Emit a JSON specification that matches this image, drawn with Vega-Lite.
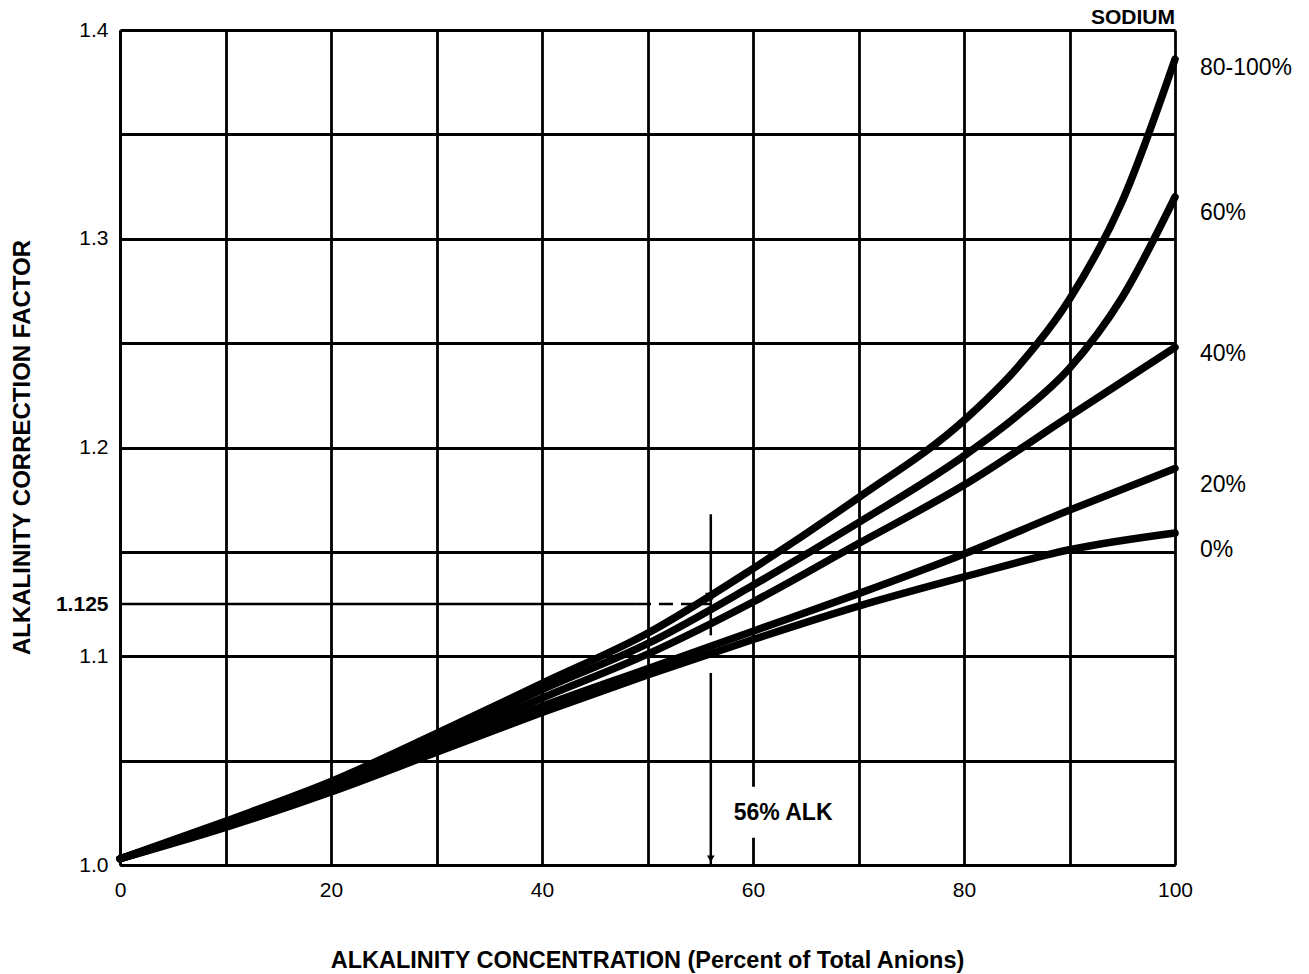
{
  "$schema": "https://vega.github.io/schema/vega-lite/v6.json",
  "width": 1055,
  "height": 835,
  "autosize": {"type": "none"},
  "padding": {"left": 120, "top": 30, "right": 134, "bottom": 109},
  "background": "white",
  "config": {"font": "Liberation Sans", "view": {"stroke": null}},
  "datasets": {
    "curves": [
      {"series": "80-100%", "x": 0, "y": 1.003}, {"series": "80-100%", "x": 10, "y": 1.021}, {"series": "80-100%", "x": 20, "y": 1.04},
      {"series": "80-100%", "x": 30, "y": 1.063}, {"series": "80-100%", "x": 40, "y": 1.087}, {"series": "80-100%", "x": 50, "y": 1.111},
      {"series": "80-100%", "x": 60, "y": 1.142}, {"series": "80-100%", "x": 70, "y": 1.176}, {"series": "80-100%", "x": 80, "y": 1.213},
      {"series": "80-100%", "x": 85, "y": 1.238}, {"series": "80-100%", "x": 90, "y": 1.271}, {"series": "80-100%", "x": 95, "y": 1.318},
      {"series": "80-100%", "x": 100, "y": 1.386},
      {"series": "60%", "x": 0, "y": 1.003}, {"series": "60%", "x": 10, "y": 1.02}, {"series": "60%", "x": 20, "y": 1.038},
      {"series": "60%", "x": 30, "y": 1.06}, {"series": "60%", "x": 40, "y": 1.084}, {"series": "60%", "x": 50, "y": 1.106},
      {"series": "60%", "x": 60, "y": 1.134}, {"series": "60%", "x": 70, "y": 1.164}, {"series": "60%", "x": 80, "y": 1.196},
      {"series": "60%", "x": 85, "y": 1.215}, {"series": "60%", "x": 90, "y": 1.238}, {"series": "60%", "x": 95, "y": 1.272},
      {"series": "60%", "x": 100, "y": 1.32},
      {"series": "40%", "x": 0, "y": 1.003}, {"series": "40%", "x": 10, "y": 1.019}, {"series": "40%", "x": 20, "y": 1.037},
      {"series": "40%", "x": 30, "y": 1.058}, {"series": "40%", "x": 40, "y": 1.08}, {"series": "40%", "x": 50, "y": 1.101},
      {"series": "40%", "x": 60, "y": 1.126}, {"series": "40%", "x": 70, "y": 1.154}, {"series": "40%", "x": 80, "y": 1.182},
      {"series": "40%", "x": 90, "y": 1.215}, {"series": "40%", "x": 100, "y": 1.248},
      {"series": "20%", "x": 0, "y": 1.003}, {"series": "20%", "x": 10, "y": 1.019}, {"series": "20%", "x": 20, "y": 1.036},
      {"series": "20%", "x": 30, "y": 1.056}, {"series": "20%", "x": 40, "y": 1.076}, {"series": "20%", "x": 50, "y": 1.094},
      {"series": "20%", "x": 60, "y": 1.112}, {"series": "20%", "x": 70, "y": 1.13}, {"series": "20%", "x": 80, "y": 1.149},
      {"series": "20%", "x": 90, "y": 1.17}, {"series": "20%", "x": 100, "y": 1.19},
      {"series": "0%", "x": 0, "y": 1.003}, {"series": "0%", "x": 10, "y": 1.018}, {"series": "0%", "x": 20, "y": 1.035},
      {"series": "0%", "x": 30, "y": 1.054}, {"series": "0%", "x": 40, "y": 1.073}, {"series": "0%", "x": 50, "y": 1.091},
      {"series": "0%", "x": 60, "y": 1.108}, {"series": "0%", "x": 70, "y": 1.124}, {"series": "0%", "x": 80, "y": 1.138},
      {"series": "0%", "x": 90, "y": 1.151}, {"series": "0%", "x": 100, "y": 1.159}
    ],
    "seriesLabels": [
      {"label": "80-100%", "x": 100, "y": 1.382},
      {"label": "60%", "x": 100, "y": 1.3125},
      {"label": "40%", "x": 100, "y": 1.245},
      {"label": "20%", "x": 100, "y": 1.182},
      {"label": "0%", "x": 100, "y": 1.151}
    ],
    "alkSegments": [
      {"x": 56, "x2": 56, "y": 1.168, "y2": 1.11},
      {"x": 56, "x2": 56, "y": 1.092, "y2": 1.0}
    ],
    "readSolid": [{"x": 0, "x2": 49, "y": 1.125, "y2": 1.125}],
    "readDashed": [{"x": 49, "x2": 56, "y": 1.125, "y2": 1.125}],
    "labelBox": [{"x": 58.3, "x2": 67.6, "y": 1.013, "y2": 1.0375}],
    "arrows": [{"x": 56, "y": 1.128, "s": 130}, {"x": 56, "y": 1.003, "s": 60}],
    "alkText": [{"label": "56% ALK", "x": 62.85, "y": 1.025}],
    "sodium": [{"label": "SODIUM", "x": 100, "y": 1.4}]
  },
  "encoding": {
    "x": {
      "field": "x", "type": "quantitative",
      "scale": {"domain": [0, 100], "nice": false, "zero": false},
      "axis": {
        "values": [0, 10, 20, 30, 40, 50, 60, 70, 80, 90, 100],
        "labelExpr": "datum.value % 20 == 0 ? datum.label : ''",
        "labelFlush": false, "labelOverlap": false,
        "grid": true, "gridColor": "black", "gridWidth": 2.8, "gridOpacity": 1,
        "domainColor": "black", "domainWidth": 3, "ticks": false,
        "labelFontSize": 21, "labelColor": "black", "labelPadding": 14,
        "title": "ALKALINITY CONCENTRATION (Percent of Total Anions)",
        "titleFontSize": 23.5, "titleFontWeight": "bold", "titleColor": "black",
        "titleX": 527, "titleY": 95, "titleBaseline": "middle", "titleAlign": "center"
      }
    },
    "y": {
      "field": "y", "type": "quantitative",
      "scale": {"domain": [1, 1.4], "nice": false, "zero": false},
      "axis": {
        "values": [1, 1.05, 1.1, 1.125, 1.15, 1.2, 1.25, 1.3, 1.35, 1.4],
        "labelExpr": "datum.value == 1 ? '1.0' : datum.value == 1.1 ? '1.1' : datum.value == 1.125 ? '1.125' : datum.value == 1.2 ? '1.2' : datum.value == 1.3 ? '1.3' : datum.value == 1.4 ? '1.4' : ''",
        "labelOverlap": false, "labelFlush": false,
        "grid": true, "gridColor": "black", "gridWidth": 2.8,
        "gridOpacity": {"condition": {"test": "datum.value == 1.125", "value": 0}, "value": 1},
        "labelFontWeight": {"condition": {"test": "datum.value == 1.125", "value": "bold"}, "value": "normal"},
        "domainColor": "black", "domainWidth": 3, "ticks": false,
        "labelFontSize": 21, "labelColor": "black", "labelPadding": 12,
        "title": "ALKALINITY CORRECTION FACTOR",
        "titleFontSize": 24, "titleFontWeight": "bold", "titleColor": "black",
        "titleAngle": -90, "titleX": -98, "titleY": 417, "titleBaseline": "middle", "titleAlign": "center"
      }
    }
  },
  "layer": [
    {
      "data": {"name": "labelBox"},
      "mark": {"type": "rect", "color": "white"},
      "encoding": {"x2": {"field": "x2"}, "y2": {"field": "y2"}}
    },
    {
      "data": {"name": "curves"},
      "mark": {"type": "line", "color": "black", "strokeWidth": 7.5, "interpolate": "monotone", "strokeCap": "round"},
      "encoding": {"detail": {"field": "series"}}
    },
    {
      "data": {"name": "alkSegments"},
      "mark": {"type": "rule", "color": "black", "strokeWidth": 2.5},
      "encoding": {"x2": {"field": "x2"}, "y2": {"field": "y2"}}
    },
    {
      "data": {"name": "readSolid"},
      "mark": {"type": "rule", "color": "black", "strokeWidth": 2.5},
      "encoding": {"x2": {"field": "x2"}, "y2": {"field": "y2"}}
    },
    {
      "data": {"name": "readDashed"},
      "mark": {"type": "rule", "color": "black", "strokeWidth": 2.5, "strokeDash": [14, 8]},
      "encoding": {"x2": {"field": "x2"}, "y2": {"field": "y2"}}
    },
    {
      "data": {"name": "arrows"},
      "mark": {"type": "point", "shape": "triangle-down", "filled": true, "color": "black", "opacity": 1},
      "encoding": {"size": {"field": "s", "type": "quantitative", "scale": null}}
    },
    {
      "data": {"name": "seriesLabels"},
      "mark": {"type": "text", "align": "left", "baseline": "middle", "dx": 25, "fontSize": 23, "color": "black"},
      "encoding": {"text": {"field": "label"}}
    },
    {
      "data": {"name": "alkText"},
      "mark": {"type": "text", "align": "center", "baseline": "middle", "fontSize": 23, "fontWeight": "bold", "color": "black"},
      "encoding": {"text": {"field": "label"}}
    },
    {
      "data": {"name": "sodium"},
      "mark": {"type": "text", "align": "right", "baseline": "middle", "dy": -12, "fontSize": 21, "fontWeight": "bold", "color": "black"},
      "encoding": {"text": {"field": "label"}}
    }
  ]
}
